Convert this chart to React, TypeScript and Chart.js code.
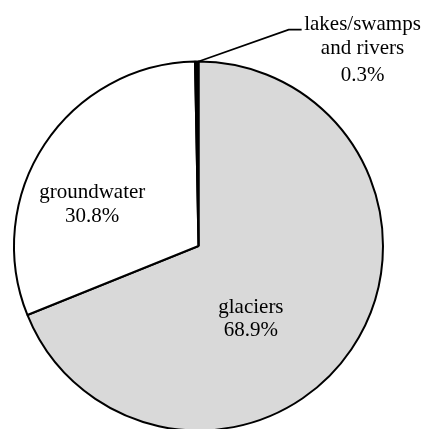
import React, { useEffect, useRef } from "react";
import { Chart, registerables } from "chart.js";

Chart.register(...registerables);

const categories = ["glaciers", "groundwater", "lakes/swamps and rivers"];
const shares = [68.9, 30.8, 0.3];
const sliceColors = ["#d9d9d9", "#ffffff", "#000000"];
const labelLines = [
  ["glaciers", "68.9%"],
  ["groundwater", "30.8%"],
  ["lakes/swamps", "and rivers", "0.3%"],
];

// label placement relative to pie center, in units of radius
const labelAnchors = [
  { dx: 0.284, dy: [0.362, 0.486] },
  { dx: -0.576, dy: [-0.259, -0.13] },
  { dx: 0.889, dy: [-1.173, -1.038, -0.892] },
];

const labelPlugin = {
  id: "pieLabels",
  afterDatasetsDraw(chart: any) {
    const meta = chart.getDatasetMeta(0);
    const ctx = chart.ctx;
    const arcs = meta.data;
    if (!arcs.length) return;
    const cx = arcs[0].x;
    const cy = arcs[0].y;
    const r = arcs[0].outerRadius;
    ctx.save();
    ctx.fillStyle = "#000";
    ctx.font = "21px 'Liberation Serif', 'Times New Roman', serif";
    ctx.textAlign = "center";
    ctx.textBaseline = "alphabetic";
    labelLines.forEach((lines, i) => {
      const a = labelAnchors[i];
      lines.forEach((t, j) => {
        ctx.fillText(t, cx + a.dx * r, cy + a.dy[j] * r);
      });
    });
    // leader line for the tiny slice
    const arc = arcs[2];
    const ang = arc.endAngle;
    const sx = cx + Math.cos(ang) * r;
    const sy = cy + Math.sin(ang) * r;
    const ex = cx + 0.489 * r;
    const ey = cy - 1.173 * r;
    ctx.strokeStyle = "#000";
    ctx.lineWidth = 1.8;
    ctx.beginPath();
    ctx.moveTo(sx, sy);
    ctx.lineTo(ex, ey);
    ctx.lineTo(ex + 0.07 * r, ey);
    ctx.stroke();
    ctx.restore();
  },
};

export default function App() {
  const ref = useRef<HTMLCanvasElement>(null);
  useEffect(() => {
    if (!ref.current) return;
    const chart = new Chart(ref.current, {
      type: "pie",
      data: {
        labels: categories,
        datasets: [
          {
            data: shares,
            backgroundColor: sliceColors,
            borderColor: "#000",
            borderWidth: 2,
          },
        ],
      },
      options: {
        responsive: false,
        animation: false,
        layout: { padding: { left: 13, top: 60.5, right: 40, bottom: 0.5 } },
        plugins: {
          legend: { display: false },
          tooltip: { enabled: false },
        },
      },
      plugins: [labelPlugin],
    });
    return () => chart.destroy();
  }, []);
  return (
    <div
      style={{
        position: "absolute",
        left: 0,
        top: 0,
        width: 424,
        height: 429,
        overflow: "hidden",
        background: "#fff",
      }}
    >
      <canvas ref={ref} width={424} height={432} style={{ display: "block" }} />
    </div>
  );
}
